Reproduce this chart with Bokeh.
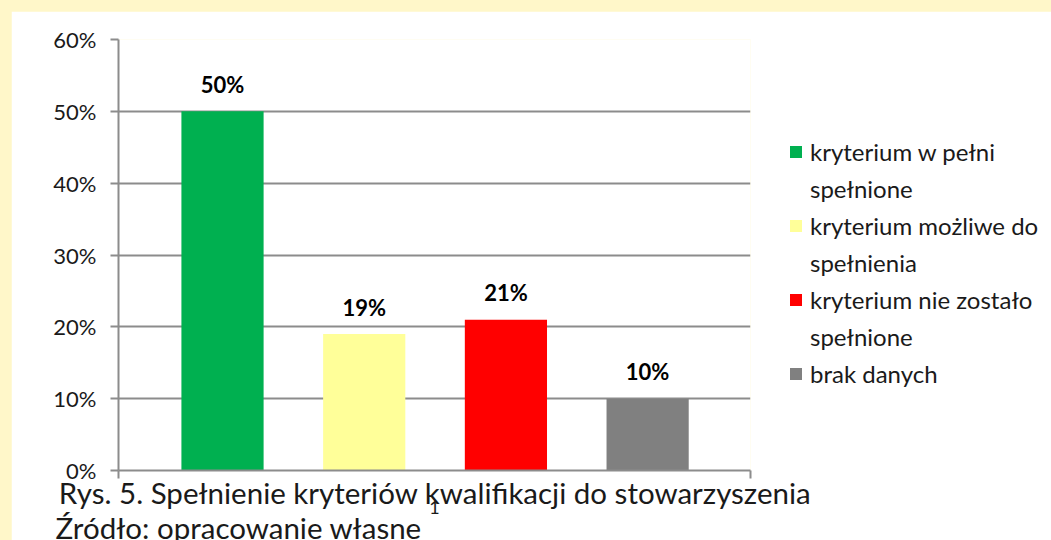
from bokeh.plotting import figure
from bokeh.models import (ColumnDataSource, Range1d, FixedTicker, NumeralTickFormatter,
                          Legend, LegendItem, Title)
from bokeh.layouts import column
from bokeh.core.properties import value
from bokeh.embed import file_html
from bokeh.resources import INLINE

categories = ["kryterium w pełni\nspełnione", "kryterium możliwe do\nspełnienia",
              "kryterium nie zostało\nspełnione", "brak danych"]
shares = [0.50, 0.19, 0.21, 0.10]
colors = ["#00B050", "#FFFF99", "#FF0000", "#808080"]
value_labels = ["50%", "19%", "21%", "10%"]
y_ticks = [0.0, 0.1, 0.2, 0.3, 0.4, 0.5, 0.6]
caption_1 = "Rys. 5. Spełnienie kryteriów kwalifikacji do stowarzyszenia"
caption_2 = "Źródło: opracowanie własne"
page_number = "1"

FONT = "Lato"
GRID = "#8C8C8C"
TXT = "#1a1a1a"
X0, X1 = -0.734, 3.726

xs = list(range(len(categories)))
src = ColumnDataSource(dict(x=xs, top=shares, color=colors, label=value_labels))

p = figure(width=1040, height=529, output_backend="svg", toolbar_location=None,
           x_range=Range1d(X0, X1), y_range=Range1d(0, 0.6),
           min_border_left=107, min_border_right=301, min_border_top=28, min_border_bottom=70,
           frame_width=632, frame_height=431, margin=(11, 0, 0, 11))
p.border_fill_color = "white"
p.background_fill_color = "white"
p.outline_line_color = None

bars = p.vbar(x="x", top="top", width=0.58, color="color", source=src, line_color=None)
blank = p.vbar(x=[], top=[], width=0.58, fill_alpha=0, line_alpha=0)
p.text(x="x", y="top", text="label", source=src, text_align="center",
       text_baseline="alphabetic", y_offset=-27, text_font=value(FONT),
       text_font_style="bold", text_font_size="22px", text_color="black")

p.xgrid.visible = False
p.ygrid.grid_line_color = GRID
p.ygrid.grid_line_width = 2
p.ygrid.ticker = FixedTicker(ticks=y_ticks)

ya = p.yaxis[0]
ya.ticker = FixedTicker(ticks=y_ticks)
ya.formatter = NumeralTickFormatter(format="0%")
ya.axis_line_color = GRID
ya.axis_line_width = 2
ya.major_tick_line_color = GRID
ya.major_tick_line_width = 2
ya.major_tick_out = 8
ya.major_tick_in = 0
ya.minor_tick_line_color = None
ya.major_label_text_font = FONT
ya.major_label_text_font_size = "22px"
ya.major_label_text_color = TXT
ya.major_label_standoff = 14

xa = p.xaxis[0]
xa.ticker = FixedTicker(ticks=[1.5], minor_ticks=[X0, X1])
xa.major_label_overrides = {1.5: caption_1}
xa.axis_line_color = GRID
xa.axis_line_width = 2
xa.major_tick_line_color = None
xa.major_tick_out = 8
xa.major_tick_in = 0
xa.minor_tick_line_color = GRID
xa.minor_tick_line_width = 2
xa.minor_tick_out = 8
xa.minor_tick_in = 0
xa.major_label_text_font = FONT
xa.major_label_text_font_size = "29.5px"
xa.major_label_text_color = TXT
xa.major_label_standoff = -4
xa.axis_label = page_number
xa.axis_label_text_font = FONT
xa.axis_label_text_font_size = "18px"
xa.axis_label_text_font_style = "normal"
xa.axis_label_text_color = TXT
xa.axis_label_standoff = -12

p.add_layout(Title(text=caption_2, align="left", offset=-63, standoff=-18,
                   text_font=FONT, text_font_size="29.5px", text_font_style="normal",
                   text_color=TXT), "below")

# one legend row per text line: the swatch sits on the first line of each category
items = []
for i, cat in enumerate(categories):
    lines = cat.split("\n")
    items.append(LegendItem(label=lines[0], renderers=[bars], index=i))
    for extra in lines[1:]:
        items.append(LegendItem(label=extra, renderers=[blank]))
legend = Legend(items=items, location=(38, 82), glyph_width=15, glyph_height=15,
                label_standoff=7, label_text_font=FONT, label_text_font_size="24px",
                label_text_color=TXT, spacing=8, padding=0, margin=0,
                border_line_color=None, background_fill_alpha=0)
p.add_layout(legend, "right")

layout = column(p, styles={"background-color": "#FFF7C9"})
open("out.html", "w").write(file_html(layout, INLINE))
